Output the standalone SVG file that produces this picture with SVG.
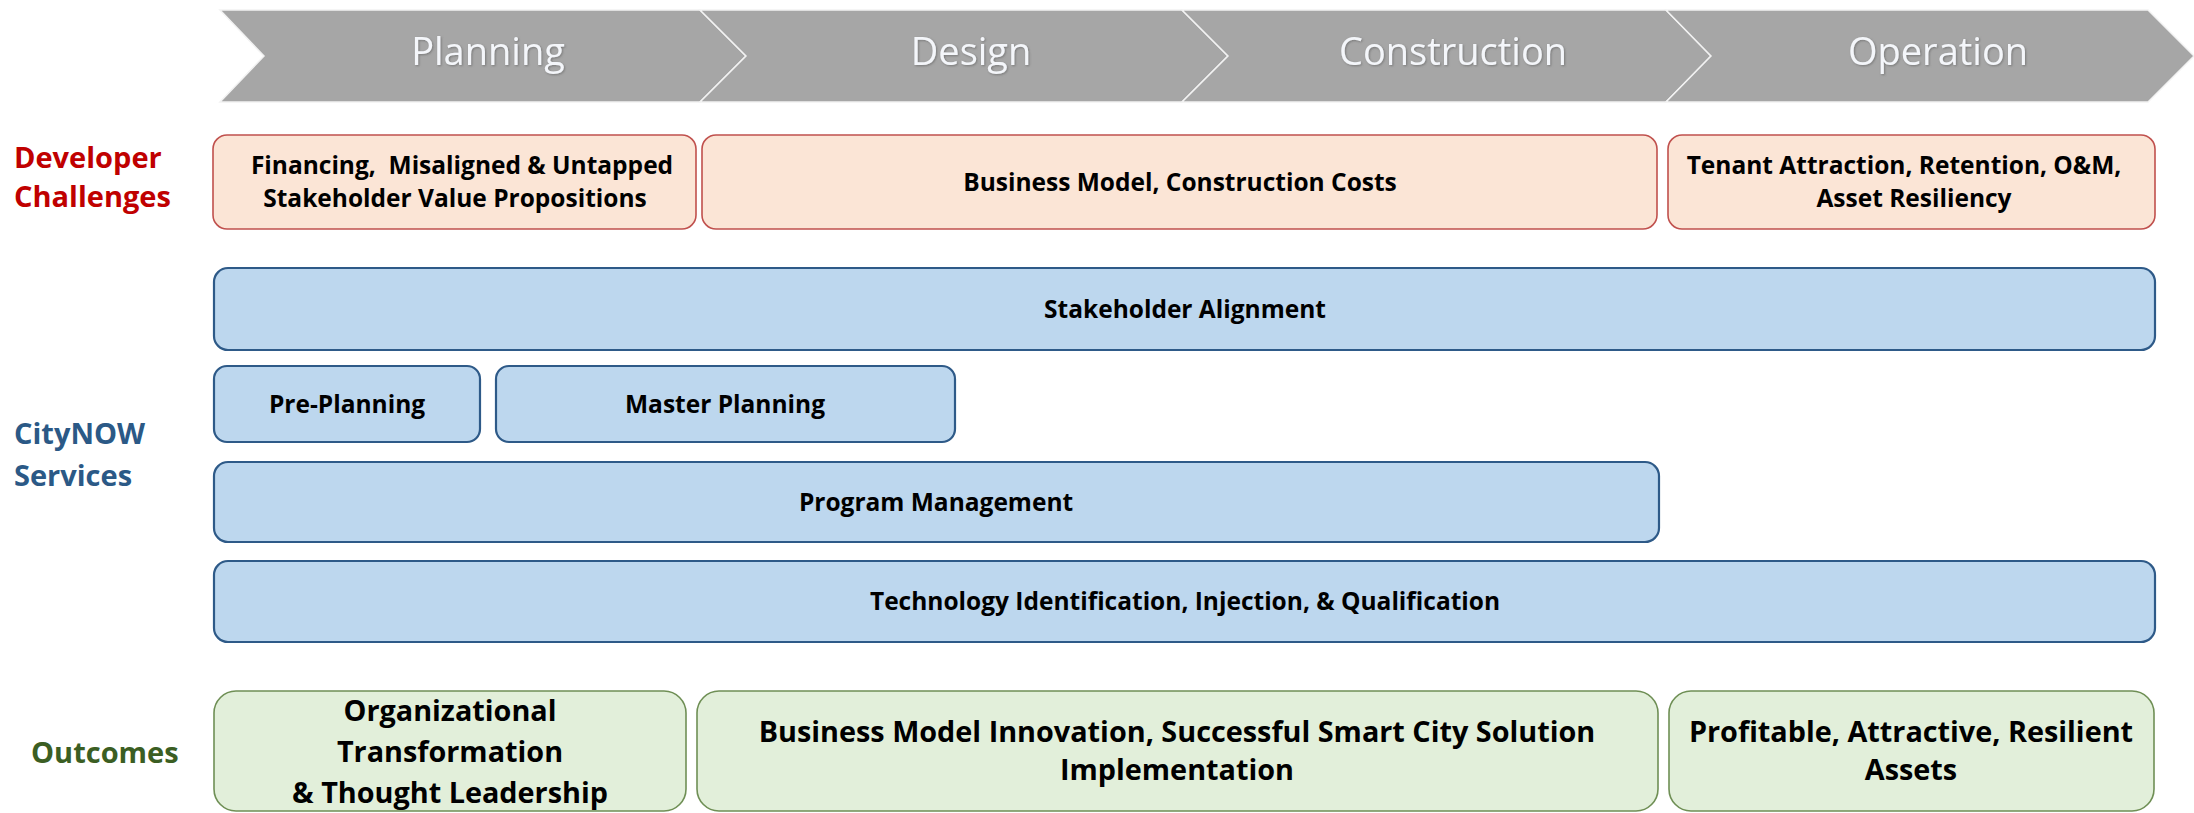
<svg xmlns="http://www.w3.org/2000/svg" width="2194" height="813" viewBox="0 0 2194 813">
<defs>
<style>
.chev{fill:#a6a6a6;stroke:#f2f2f2;stroke-width:1.5}
.ph{font-family:"Open Sans",Lato,sans-serif;font-size:38px;fill:#f4f6fa;text-anchor:middle}
.dc{fill:#fbe5d6;stroke:#c0504d;stroke-width:1.6}
.sv{fill:#bdd7ee;stroke:#2e5a88;stroke-width:2.2}
.oc{fill:#e2efda;stroke:#6f8f55;stroke-width:1.6}
.t{font-family:"Open Sans",Lato,sans-serif;font-weight:bold;font-size:24.5px;fill:#000;text-anchor:middle}
.tb{font-family:"Open Sans",Lato,sans-serif;font-weight:bold;font-size:28.8px;fill:#000;text-anchor:middle}
.lab{font-family:"Open Sans",Lato,sans-serif;font-weight:bold;font-size:29px}
</style>
<filter id="sh" x="-10%" y="-20%" width="120%" height="140%">
<feDropShadow dx="1" dy="1" stdDeviation="0.8" flood-color="#5a5a5a" flood-opacity="0.6"/>
</filter>
</defs>
<rect width="2194" height="813" fill="#ffffff"/>
<g id="phases">
<g id="phase-planning">
<polygon class="chev" points="220,10 700,10 746,56 700,102 220,102 264,56"/>
<text class="ph" x="488" y="65" filter="url(#sh)">Planning</text>
</g>
<g id="phase-design">
<polygon class="chev" points="700,10 1182,10 1228,56 1182,102 700,102 746,56"/>
<text class="ph" x="971" y="65" filter="url(#sh)">Design</text>
</g>
<g id="phase-construction">
<polygon class="chev" points="1182,10 1666,10 1711,56 1666,102 1182,102 1228,56"/>
<text class="ph" x="1453" y="65" filter="url(#sh)">Construction</text>
</g>
<g id="phase-operation">
<polygon class="chev" points="1666,10 2148,10 2194,56 2148,102 1666,102 1711,56"/>
<text class="ph" x="1938" y="65" filter="url(#sh)">Operation</text>
</g>
</g>
<g id="row-labels">
<text class="lab" x="14" y="168" fill="#c00000">Developer</text>
<text class="lab" x="14" y="207" fill="#c00000">Challenges</text>
<text class="lab" x="14" y="444" fill="#2b5986">CityNOW</text>
<text class="lab" x="14" y="486" fill="#2b5986">Services</text>
<text class="lab" x="31" y="763" fill="#3b5e23">Outcomes</text>
</g>
<g id="challenge-1">
<rect class="dc" x="213" y="135" width="483" height="94" rx="14"/>
<text class="t" x="462" y="174" xml:space="preserve">Financing,  Misaligned &amp; Untapped</text>
<text class="t" x="455" y="207">Stakeholder Value Propositions</text>
</g>
<g id="challenge-2">
<rect class="dc" x="702" y="135" width="955" height="94" rx="14"/>
<text class="t" x="1180" y="191">Business Model, Construction Costs</text>
</g>
<g id="challenge-3">
<rect class="dc" x="1668" y="135" width="487" height="94" rx="14"/>
<text class="t" x="1904" y="174">Tenant Attraction, Retention, O&amp;M,</text>
<text class="t" x="1914" y="207">Asset Resiliency</text>
</g>
<g id="svc-stakeholder">
<rect class="sv" x="214" y="268" width="1941" height="82" rx="14"/>
<text class="t" x="1185" y="318">Stakeholder Alignment</text>
</g>
<g id="svc-preplanning">
<rect class="sv" x="214" y="366" width="266" height="76" rx="13"/>
<text class="t" x="347" y="413">Pre-Planning</text>
</g>
<g id="svc-masterplanning">
<rect class="sv" x="496" y="366" width="459" height="76" rx="13"/>
<text class="t" x="725" y="413">Master Planning</text>
</g>
<g id="svc-program">
<rect class="sv" x="214" y="462" width="1445" height="80" rx="14"/>
<text class="t" x="936" y="511">Program Management</text>
</g>
<g id="svc-technology">
<rect class="sv" x="214" y="561" width="1941" height="81" rx="14"/>
<text class="t" x="1185" y="610">Technology Identification, Injection, &amp; Qualification</text>
</g>
<g id="outcome-1">
<rect class="oc" x="214" y="691" width="472" height="120" rx="22"/>
<text class="tb" x="450" y="721">Organizational</text>
<text class="tb" x="450" y="762">Transformation</text>
<text class="tb" x="450" y="803">&amp; Thought Leadership</text>
</g>
<g id="outcome-2">
<rect class="oc" x="697" y="691" width="961" height="120" rx="22"/>
<text class="tb" x="1177" y="742">Business Model Innovation, Successful Smart City Solution</text>
<text class="tb" x="1177" y="780">Implementation</text>
</g>
<g id="outcome-3">
<rect class="oc" x="1669" y="691" width="485" height="120" rx="22"/>
<text class="tb" x="1911" y="742">Profitable, Attractive, Resilient</text>
<text class="tb" x="1911" y="780">Assets</text>
</g>
<g id="connectors"></g>
</svg>
